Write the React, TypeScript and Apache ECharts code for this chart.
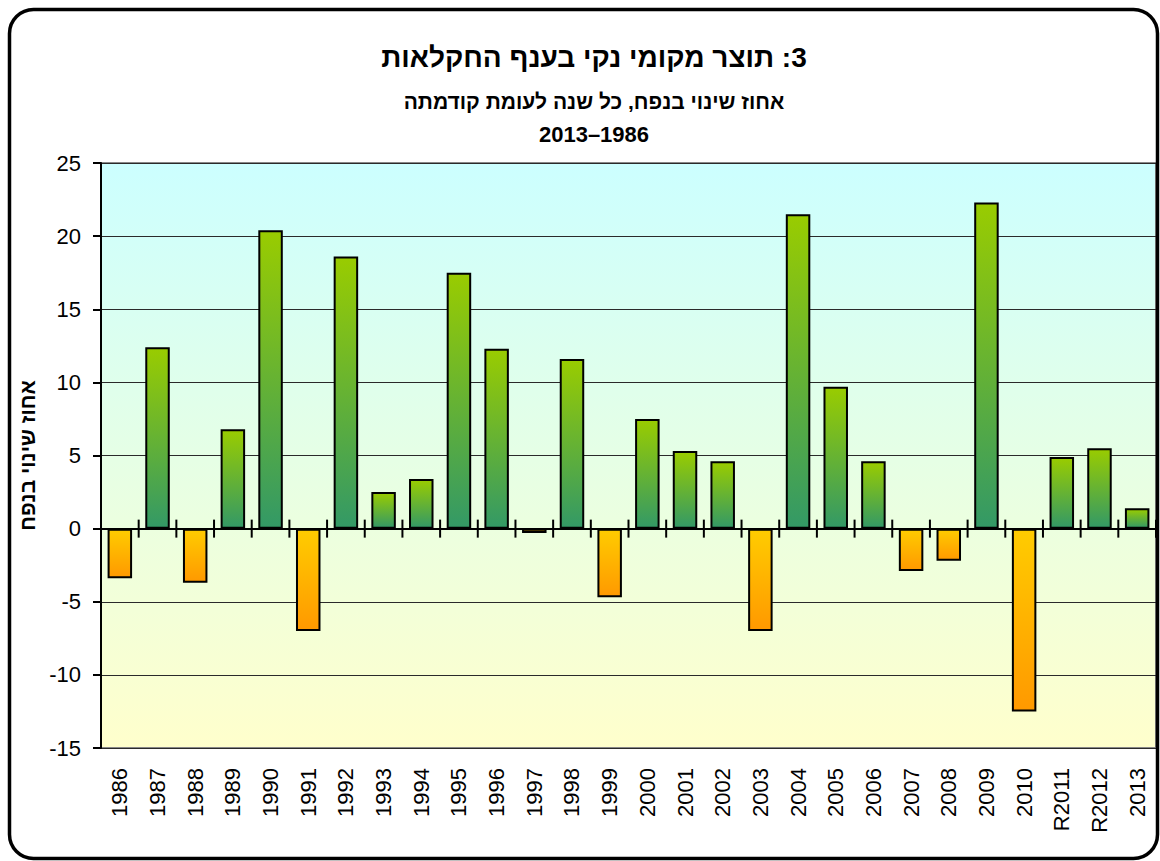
import React, { useEffect, useRef } from "react";
import * as echarts from "echarts";

const categories = [
  "1986", "1987", "1988", "1989", "1990", "1991", "1992", "1993", "1994", "1995",
  "1996", "1997", "1998", "1999", "2000", "2001", "2002", "2003", "2004", "2005",
  "2006", "2007", "2008", "2009", "2010", "R2011", "R2012", "2013",
];
const values = [
  -3.4, 12.4, -3.7, 6.8, 20.4, -7.0, 18.6, 2.5, 3.4, 17.5,
  12.3, -0.3, 11.6, -4.7, 7.5, 5.3, 4.6, -7.0, 21.5, 9.7,
  4.6, -2.9, -2.2, 22.3, -12.5, 4.9, 5.5, 1.4,
];
const yTicks = { min: -15, max: 25, interval: 5 };
const titleText = "\u200F3: תוצר מקומי נקי בענף החקלאות";
const subtitle1 = "אחוז שינוי בנפח, כל שנה לעומת קודמתה";
const subtitle2 = "2013–1986";
const yAxisName = "אחוז שינוי בנפח";

const FONT = 'Arial, "Liberation Sans", sans-serif';
const GRID = { left: 101, top: 163, right: 4, bottom: 113 };
const W = 1160;
const H = 861;
const TICK = 9;

export default function App() {
  const ref = useRef<HTMLDivElement>(null);
  useEffect(() => {
    if (!ref.current) return;
    const chart = echarts.init(ref.current, null, { renderer: "svg" });
    const green = new echarts.graphic.LinearGradient(0, 0, 0, 1, [
      { offset: 0, color: "#99CC00" },
      { offset: 1, color: "#339966" },
    ]);
    const orange = new echarts.graphic.LinearGradient(0, 0, 0, 1, [
      { offset: 0, color: "#FFCC00" },
      { offset: 1, color: "#FF9900" },
    ]);
    const tickStyle = { color: "#000", width: 2 };
    const option: any = {
      animation: false,
      backgroundColor: "#ffffff",
      title: [
        {
          text: titleText,
          left: 589,
          top: 38,
          textAlign: "center",
          textStyle: { fontFamily: FONT, fontSize: 28, fontWeight: "bold", color: "#000" },
        },
        {
          text: subtitle1,
          left: 589,
          top: 86,
          textAlign: "center",
          textStyle: { fontFamily: FONT, fontSize: 21, fontWeight: "bold", color: "#000" },
        },
        {
          text: subtitle2,
          left: 589,
          top: 118,
          textAlign: "center",
          textStyle: { fontFamily: FONT, fontSize: 22, fontWeight: "bold", color: "#000" },
        },
      ],
      grid: { ...GRID, show: false },
      xAxis: [
        {
          type: "category",
          data: categories,
          position: "bottom",
          axisLine: { show: false, onZero: false },
          axisTick: { show: false },
          axisLabel: {
            rotate: 90,
            interval: 0,
            margin: 20,
            fontSize: 22,
            fontFamily: FONT,
            color: "#000",
          },
          z: 10,
        },
        {
          type: "category",
          data: categories,
          position: "bottom",
          axisLine: { show: true, onZero: true, lineStyle: { color: "#000", width: 2 } },
          axisTick: { show: false },
          axisLabel: { show: false },
          z: 10,
        },
      ],
      yAxis: [
        {
          type: "value",
          min: yTicks.min,
          max: yTicks.max,
          interval: yTicks.interval,
          name: yAxisName,
          nameLocation: "middle",
          nameRotate: 90,
          nameGap: 60,
          nameTextStyle: { fontFamily: FONT, fontSize: 21, fontWeight: "bold", color: "#000" },
          axisLine: { show: true, lineStyle: { color: "#000", width: 2 } },
          axisTick: { show: true, length: 8, lineStyle: tickStyle },
          axisLabel: { fontFamily: FONT, fontSize: 22, color: "#000", margin: 20 },
          splitLine: { show: true, lineStyle: { color: "#2a2a2a", width: 1 } },
          z: 5,
        },
      ],
      series: [
        {
          type: "bar",
          xAxisIndex: 0,
          yAxisIndex: 0,
          barWidth: "65%",
          data: values.map((v) => ({
            value: v,
            itemStyle: {
              color: v >= 0 ? green : orange,
              borderColor: "#000",
              borderWidth: 2,
            },
          })),
          z: 6,
        },
        {
          type: "custom",
          xAxisIndex: 0,
          yAxisIndex: 0,
          silent: true,
          z: 8,
          clip: false,
          encode: { x: 0, y: 1 },
          data: categories.map((c) => [c, 0]),
          renderItem: (params: any, api: any) => {
            const idx = params.dataIndex;
            const p = api.coord([idx, 0]);
            const w = api.size([1, 0])[0];
            const xs: number[] = [];
            if (idx > 0) xs.push(p[0] - w / 2);
            if (idx === categories.length - 1) xs.push(p[0] + w / 2);
            return {
              type: "group",
              children: xs.map((x) => ({
                type: "line",
                shape: { x1: x, y1: p[1] - TICK, x2: x, y2: p[1] + TICK },
                style: { stroke: "#000", lineWidth: 2 },
              })),
            };
          },
        },
      ],
      graphic: [
        {
          type: "rect",
          shape: {
            x: GRID.left,
            y: GRID.top,
            width: W - GRID.left - GRID.right,
            height: H - GRID.top - GRID.bottom,
          },
          style: {
            fill: new echarts.graphic.LinearGradient(0, 0, 0, 1, [
              { offset: 0, color: "#CCFFFF" },
              { offset: 1, color: "#FFFFCC" },
            ]),
            stroke: "#888888",
            lineWidth: 2,
          },
          silent: true,
          z: -10,
        },
        {
          type: "rect",
          shape: { x: 9.5, y: 9.5, width: 1148, height: 849, r: 24 },
          style: { fill: "none", stroke: "#000", lineWidth: 3.5 },
          silent: true,
          z: 100,
        },
      ],
    };
    chart.setOption(option);
    return () => chart.dispose();
  }, []);
  return (
    <div
      ref={ref}
      style={{ position: "fixed", left: 0, top: 0, width: W, height: H }}
    />
  );
}
